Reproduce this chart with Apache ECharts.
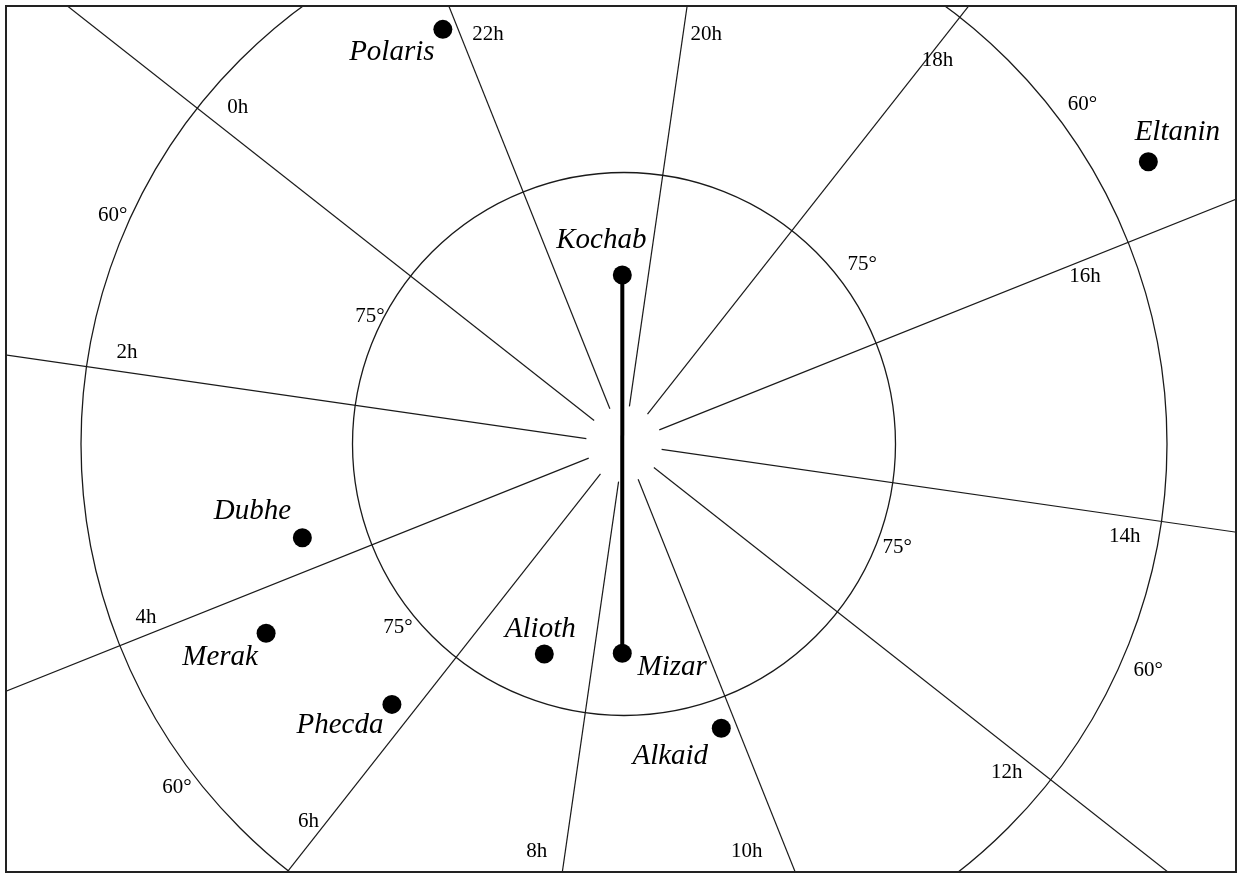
<!DOCTYPE html>
<html>
<head>
<meta charset="utf-8">
<title>Kochab and Mizar</title>
<script src="https://cdn.jsdelivr.net/npm/echarts@6/dist/echarts.min.js"></script>
<style>
html, body { margin: 0; padding: 0; background: #fff; }
#chart { width: 1240px; height: 874px; }
</style>
</head>
<body>
<div id="chart"></div>
<script>
// stars: declination (deg) and right ascension (h)
var starNames = ['Polaris', 'Kochab', 'Eltanin', 'Dubhe', 'Merak', 'Phecda', 'Alioth', 'Mizar', 'Alkaid'];
var starDec   = [65.0, 80.66, 57.10, 71.49, 67.63, 70.73, 77.59, 78.44, 73.40];
var starRA    = [22.12, 20.585, 16.433, 3.63, 4.405, 5.766, 7.161, 8.515, 9.806];

// hour lines every 2h, declination circles
var hourValues = [0, 2, 4, 6, 8, 10, 12, 14, 16, 18, 20, 22];
var hourTicks  = ['0h', '2h', '4h', '6h', '8h', '10h', '12h', '14h', '16h', '18h', '20h', '22h'];
var decTicks   = ['60°', '60°', '60°', '60°', '75°', '75°', '75°', '75°'];

// ---- layout (not data) ----
// where each hour label sits, [dec, ra]
var hourLabelAt = [
    [61.70, 23.81], [62.08, 1.85], [61.90, 3.88], [62.80, 5.89],
    [66.99, 7.74], [66.51, 9.665], [62.14, 11.84], [61.87, 13.85],
    [62.89, 15.88], [62.63, 17.93], [66.90, 19.79], [66.15, 21.77]
];
// where each declination label sits, [dec, ra]
var decLabelAt = [
    [59.06, 0.94], [58.49, 16.98], [58.46, 12.99], [58.84, 5.05],
    [74.31, 0.775], [73.54, 17.01], [73.86, 13.16], [73.91, 5.15]
];
// star name offset from the dot, px
var starLabelOffset = {
    Polaris: [-51, 23], Kochab: [-21, -35], Eltanin: [29, -29],
    Dubhe: [-50, -26], Merak: [-46, 24], Phecda: [-52, 21],
    Alioth: [-4, -25], Mizar: [50, 14], Alkaid: [-51, 28]
};

var pxPerDeg = 18.1;
var outerDec = 45;
var innerDec = 87.9;   // hour lines stop short of the pole
var ink = '#1a1a1a';

var chart = echarts.init(document.getElementById('chart'));

var series = [];

// hour lines
hourValues.forEach(function (h) {
    series.push({
        type: 'line',
        coordinateSystem: 'polar',
        data: [[innerDec, h], [outerDec, h]],
        symbol: 'none',
        silent: true,
        z: 1,
        lineStyle: { color: ink, width: 1.2 }
    });
});

// Kochab - Mizar line
var iK = starNames.indexOf('Kochab');
var iM = starNames.indexOf('Mizar');
series.push({
    type: 'line',
    coordinateSystem: 'polar',
    data: [[starDec[iK], starRA[iK]], [starDec[iM], starRA[iM]]],
    symbol: 'none',
    silent: true,
    z: 3,
    lineStyle: { color: '#000', width: 4 }
});

// stars
series.push({
    type: 'scatter',
    coordinateSystem: 'polar',
    symbolSize: 19,
    z: 4,
    itemStyle: { color: '#000', opacity: 1 },
    label: {
        show: true,
        position: 'inside',
        formatter: '{b}',
        fontFamily: 'Liberation Serif',
        fontStyle: 'italic',
        fontSize: 29,
        color: '#000',
        opacity: 1
    },
    data: starNames.map(function (n, i) {
        return { name: n, value: [starDec[i], starRA[i]], label: { offset: starLabelOffset[n] } };
    })
});

// axis texts
function textSeries(texts, at) {
    return {
        type: 'scatter',
        coordinateSystem: 'polar',
        symbolSize: 1,
        z: 4,
        silent: true,
        itemStyle: { color: 'rgba(0,0,0,0)', opacity: 1 },
        label: {
            show: true,
            position: 'inside',
            formatter: '{b}',
            fontFamily: 'Liberation Serif',
            fontSize: 21,
            color: '#000',
            opacity: 1
        },
        data: texts.map(function (t, i) {
            return { name: t, value: at[i] };
        })
    };
}
series.push(textSeries(hourTicks, hourLabelAt));
series.push(textSeries(decTicks, decLabelAt));

var option = {
    animation: false,
    backgroundColor: '#fff',
    polar: {
        center: [624, 444],
        radius: (90 - outerDec) * pxPerDeg
    },
    angleAxis: {
        type: 'value',
        min: 0,
        max: 24,
        interval: 2,
        startAngle: 141.8,
        clockwise: false,
        axisLine: { show: false },
        axisTick: { show: false },
        axisLabel: { show: false },
        splitLine: { show: false }
    },
    radiusAxis: {
        type: 'value',
        min: outerDec,
        max: 90,
        interval: 15,
        inverse: true,
        axisLine: { show: false },
        axisTick: { show: false },
        axisLabel: { show: false },
        splitLine: { show: true, lineStyle: { color: ink, width: 1.3 } }
    },
    graphic: [
        // white margin round the frame
        { type: 'rect', z: 100, silent: true, shape: { x: 0, y: 0, width: 1240, height: 5 }, style: { fill: '#fff' } },
        { type: 'rect', z: 100, silent: true, shape: { x: 0, y: 873, width: 1240, height: 1 }, style: { fill: '#fff' } },
        { type: 'rect', z: 100, silent: true, shape: { x: 0, y: 0, width: 5, height: 874 }, style: { fill: '#fff' } },
        { type: 'rect', z: 100, silent: true, shape: { x: 1237, y: 0, width: 3, height: 874 }, style: { fill: '#fff' } },
        // frame
        { type: 'rect', z: 101, silent: true, shape: { x: 6, y: 6, width: 1230, height: 866 },
          style: { fill: null, stroke: '#222', lineWidth: 2 } }
    ],
    series: series
};

chart.setOption(option);
</script>
</body>
</html>
